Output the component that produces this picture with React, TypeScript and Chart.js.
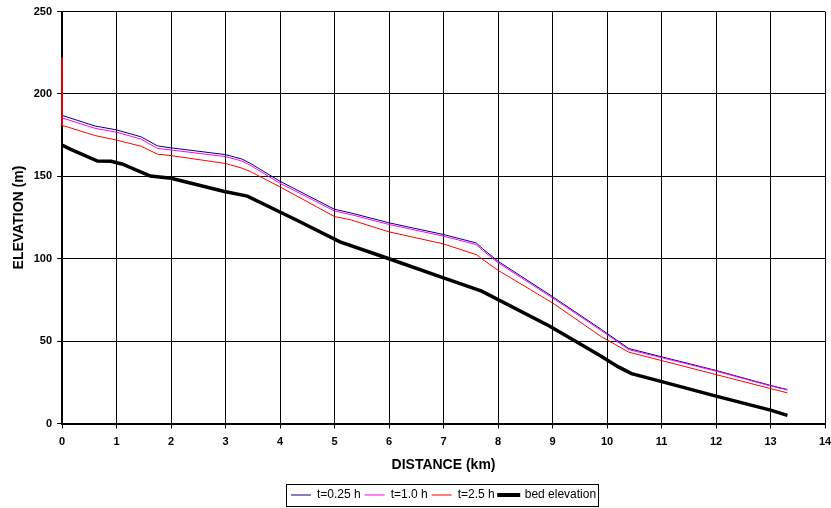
import React, { useEffect, useRef } from "react";
import { Chart, registerables } from "chart.js";

Chart.register(...registerables);

const wsDistance = [0, 0.6, 1.0, 1.45, 1.75, 2.0, 3.0, 3.3, 3.45, 4.0, 5.0, 5.3, 6.0, 7.0, 7.6, 7.72, 8.0, 9.0, 9.9, 10.4, 11, 12, 13, 13.31];
const t025 = [187, 180.6, 178.2, 174, 168.5, 167.3, 163.2, 160.5, 158, 147, 130, 127.8, 121.8, 114.7, 109.6, 106, 98.5, 77, 57, 45.5, 40.5, 32.2, 23.1, 20.6];
const t10 = [185.5, 179.2, 176.8, 172.6, 167, 166, 162, 159.3, 156.8, 145.8, 129, 126.8, 120.8, 113.7, 108.6, 105, 97.6, 76.2, 56.3, 44.8, 40, 31.8, 22.8, 20.3];
const t25Distance = [0, 0, 0.6, 1.0, 1.45, 1.75, 2.0, 3.0, 3.3, 3.45, 4.0, 5.0, 5.3, 6.0, 7.0, 7.6, 7.72, 8.0, 9.0, 9.9, 10.4, 11, 12, 13, 13.31];
const t25 = [222, 181, 174.8, 172, 168.3, 163.5, 162.6, 157.8, 155, 153, 143.6, 125.6, 123.6, 116.3, 109, 102.5, 99.5, 93, 73.2, 52.6, 43.3, 38.2, 29.7, 21.2, 18.6];
const bedDistance = [0, 0.15, 0.65, 0.9, 1.1, 1.62, 2.0, 2.96, 3.4, 4.3, 5.1, 6.0, 7.0, 7.7, 8.95, 9.87, 10.2, 10.45, 10.97, 12.0, 13.0, 13.31];
const bedElevation = [169, 166.5, 159.3, 159.2, 157.5, 150.2, 148.8, 141, 138, 123.5, 110.2, 100, 88.4, 80.3, 59, 41.3, 34.5, 30.3, 25.7, 16.6, 8.1, 4.9];
const seriesNames = ["t=0.25 h", "t=1.0 h", "t=2.5 h", "bed elevation"];

const FONT = "'Liberation Sans', Arial, sans-serif";

const pts = (xs: number[], ys: number[]) => xs.map((x, i) => ({ x, y: ys[i] }));

const legendBorder = {
  id: "legendBorder",
  afterDraw(chart: any) {
    const lg = chart.legend;
    if (!lg || !lg.legendHitBoxes || !lg.legendHitBoxes.length) return;
    let x0 = Infinity, x1 = -Infinity, y0 = Infinity, y1 = -Infinity;
    for (const b of lg.legendHitBoxes) {
      x0 = Math.min(x0, b.left);
      x1 = Math.max(x1, b.left + b.width);
      y0 = Math.min(y0, b.top);
      y1 = Math.max(y1, b.top + b.height);
    }
    const ctx = chart.ctx;
    ctx.save();
    ctx.strokeStyle = "#000";
    ctx.lineWidth = 1;
    ctx.strokeRect(Math.round(x0 - 5) + 0.5, Math.round(y0 - 5) + 0.5, Math.round(x1 - x0 + 7), Math.round(y1 - y0 + 10));
    ctx.restore();
  },
};

export default function App() {
  const ref = useRef<HTMLCanvasElement>(null);
  useEffect(() => {
    const chart = new Chart(ref.current!, {
      type: "scatter",
      data: {
        datasets: [
          { label: seriesNames[0], data: pts(wsDistance, t025), borderColor: "#000080", backgroundColor: "#000080", borderWidth: 1, showLine: true, pointRadius: 0, order: 3 },
          { label: seriesNames[1], data: pts(wsDistance, t10), borderColor: "#FF00FF", backgroundColor: "#FF00FF", borderWidth: 1, showLine: true, pointRadius: 0, order: 2 },
          { label: seriesNames[2], data: pts(t25Distance, t25), borderColor: "#FF0000", backgroundColor: "#FF0000", borderWidth: 1, showLine: true, pointRadius: 0, order: 1, clip: 4 },
          { label: seriesNames[3], data: pts(bedDistance, bedElevation), borderColor: "#000000", backgroundColor: "#000000", borderWidth: 3.5, showLine: true, pointRadius: 0, order: 0 },
        ],
      },
      options: {
        responsive: false,
        animation: false,
        layout: { padding: { top: 8, right: 0, left: 4, bottom: -3 } },
        plugins: {
          tooltip: { enabled: false },
          legend: {
            position: "bottom",
            fullSize: false,
            labels: {
              font: { family: FONT, size: 12 },
              color: "#000",
              boxWidth: 20,
              boxHeight: 1,
              padding: 4,
              generateLabels: (c: any) =>
                c.data.datasets.map((ds: any, i: number) => ({
                  text: ds.label,
                  fillStyle: ds.borderColor,
                  strokeStyle: ds.borderColor,
                  lineWidth: i === 3 ? 3 : 0,
                  hidden: false,
                  datasetIndex: i,
                  fontColor: "#000",
                })),
            },
          },
        },
        scales: {
          x: {
            type: "linear",
            min: 0,
            max: 14,
            afterFit: (s: any) => {
              s.paddingRight = 6;
            },
            ticks: { stepSize: 1, color: "#000", font: { family: FONT, size: 11, weight: "bold" }, padding: 7 },
            grid: { color: "#000", lineWidth: 1, tickLength: 5 },
            border: { color: "#000", width: 2 },
            title: { display: true, text: "DISTANCE (km)", color: "#000", font: { family: FONT, size: 14, weight: "bold" }, padding: { top: 1.4, bottom: 11.1 } },
          },
          y: {
            type: "linear",
            min: 0,
            max: 250,
            ticks: { stepSize: 50, color: "#000", font: { family: FONT, size: 11, weight: "bold" }, padding: 5 },
            grid: { color: "#000", lineWidth: 1, tickLength: 5 },
            border: { color: "#000", width: 2 },
            title: { display: true, text: "ELEVATION (m)", color: "#000", font: { family: FONT, size: 14, weight: "bold" }, padding: { top: 6.6, bottom: 1.3 } },
          },
        },
      },
      plugins: [legendBorder],
    } as any);
    return () => chart.destroy();
  }, []);
  return (
    <div style={{ position: "fixed", left: 0, top: 0, width: 831, height: 508, background: "#fff" }}>
      <canvas ref={ref} width={831} height={508} />
    </div>
  );
}
